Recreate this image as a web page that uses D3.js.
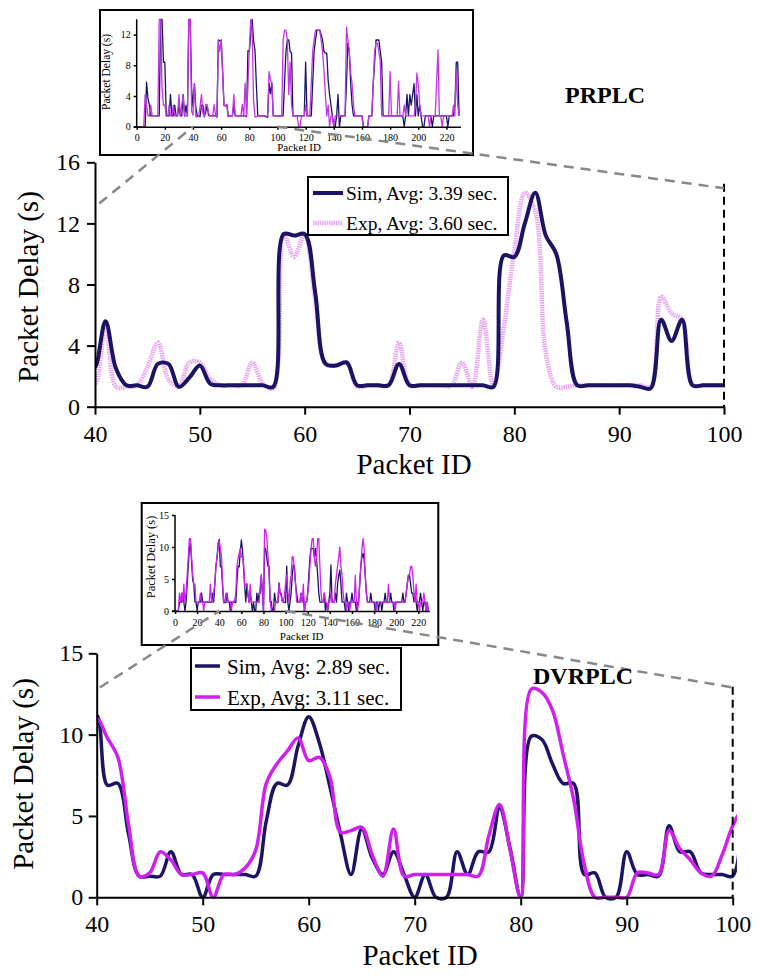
<!DOCTYPE html>
<html><head><meta charset="utf-8">
<script src="https://cdn.jsdelivr.net/npm/d3@7"></script>
<style>
body{margin:0;background:#fff}
svg text{font-family:"Liberation Serif","Times New Roman",serif;fill:#000}
</style>
</head><body>
<svg id="c" width="762" height="976"></svg>
<script>
// ---------------- DATA ----------------
// packet ids 0..229 (index = packet id)
const prSim = [0,0,0,0,0,0,0,5.8,3.7,2.8,
1.4,1.4,1.4,1.4,1.4,1.4,1.4,14,14,8.4,
8.4,1.4,1.4,1.4,4.2,1.4,1.4,2.8,1.4,1.4,
2.8,1.4,1.4,4.2,1.4,2.8,1.4,14,14,5,
2.6,5.6,2.5,1.4,1.4,1.3,2.8,2.8,1.3,1.9,
2.7,1.5,1.4,1.4,1.4,1.4,1.4,1.3,11.3,11.2,
11.3,7.5,2.8,2.7,2.9,1.4,1.4,1.4,1.4,2.8,
1.4,1.4,1.4,1.4,1.4,1.4,1.4,1.4,1.3,9.9,
9.8,12,14,11.2,10,5.5,1.4,1.4,1.4,1.4,
1.4,1.4,1.3,1.2,5.7,4.3,5.7,1.4,1.4,1.4,
1.4,1.4,1.4,1.4,1.4,5.6,9.8,11.3,11.3,9.8,
9.6,1.4,1.4,1.4,1.4,1.4,1.4,1.4,1.4,1.4,
8.4,1.4,1.4,1.4,1.4,5.6,9.8,11.3,12.6,12.6,
12.6,12,11.3,9.8,9.6,9.6,6,4.2,2.8,1.4,
0,0,1.4,4.2,0,1.4,1.4,1.4,1.4,5.6,
10.9,9.8,5.6,2.8,1.4,1.4,1.4,1.4,1.4,1.4,
1.4,0,0,0,0,1.4,1.4,1.4,5.6,8.4,
11.3,11.3,11.3,9.8,8.4,1.4,1.4,1.4,1.4,1.4,
1.4,1.4,1.4,1.4,1.4,1.4,1.4,1.4,1.4,1.4,
0,1.4,4.2,1.4,4.2,2.8,4.2,5.6,1.4,4.2,
1.4,2.8,1.4,0,0,1.4,1.4,1.4,1.4,1.4,
0,1.4,1.4,1.4,1.4,1.4,1.4,1.4,1.4,1.4,
1.4,0,1.4,1.4,1.4,1.4,2.8,8.4,8.4,1.4];

const prExp = [0,0,0,0,0,0,4.2,2.8,1.4,1.4,
2.8,1.4,1.4,1.4,1.4,1.4,14,14,5,2.8,
2.8,1.4,1.4,2.8,1.4,1.4,2.8,1.4,1.4,1.4,
4.2,1.4,2.8,4.2,1.4,1.4,1.4,14,14,2,
1.5,5.6,1.3,1.3,1.4,2.6,4.2,1.8,1.3,2.9,
2.9,1.8,1.4,1.4,1.4,2.9,1.5,1.2,11.3,9.8,
11.3,7,2.8,2.7,2.9,1.3,1.4,1.4,1.4,4.2,
1.4,1.4,1.4,1.4,1.4,2.9,1.3,5.7,1.3,5.2,
10.2,14,12.8,3.5,1.3,1.3,1.4,1.4,1.4,1.4,
1.4,1.4,1.4,1.3,7.2,6.1,5.7,1.4,1.4,1.4,
1.4,1.4,1.4,1.4,11.3,12.6,12.6,11.3,4.2,8.4,
2.8,1.4,1.4,1.4,1.4,0,0,1.4,1.4,1.4,
2.8,1.4,1.4,1.4,5.6,9.8,11.3,12.6,12.6,12.6,
12.6,11.3,9.8,7.4,4.2,1.4,2.8,0,1.4,1.4,
0,1.4,1.4,1.4,1.4,1.4,1.4,1.4,1.4,13,
11.3,9.8,7,5.6,2.8,1.4,1.4,1.4,1.4,1.4,
1.4,0,0,0,0,1.4,1.4,1.4,5.6,9.8,
10.9,10.9,9.8,8.4,1.4,1.4,1.4,1.4,1.4,1.4,
7.2,1.4,1.4,1.4,1.4,1.4,5.9,1.4,1.4,1.4,
2.8,1.4,1.4,1.4,1.4,1.4,1.4,1.4,2.8,7,
5.6,2.8,1.4,1.4,1.4,1.4,1.4,1.4,0,1.4,
1.4,1.4,1.4,5.6,10,1.4,1.4,0,1.4,1.4,
1.4,1.4,1.4,1.4,1.4,2.8,1.4,7.2,2.8,1.4];

const dvSim = [0,0,0,0,1.4,1.4,1.4,2.8,1.4,0,
1.4,4.2,7,9.8,10.6,7.7,4.8,4.2,1.4,1.4,
0,1.4,1.4,1.4,2.8,1.4,1.4,1.4,1.4,1.4,
1.4,1.4,1.4,1.4,2.8,1.4,4.2,7,8.4,10.6,
11.2,6.9,7,3.9,1.3,1.3,1.3,2.8,1.4,1.4,
0,1.4,1.4,1.4,1.4,1.3,4.7,7,6.9,9.3,
11.1,9.5,6.8,3.9,1.4,4.2,2.4,1.4,2.8,1.4,
0,1.4,0,0,2.8,1.4,2.8,2.8,5.5,3,
0,9.9,9.7,8.2,7,7,1.4,1.5,0,0,
2.8,1.4,1.4,1.3,4.4,2.8,2.8,1.5,1.4,1.4,
1.3,7,1.4,0,1.4,2.8,5.6,7.2,7,4.2,
2.8,1.4,1.4,1.4,2.8,1.4,2.8,0,1.4,1.4,
2.8,5.6,8.4,9.8,9.8,9.8,8.4,9.8,8,5.6,
2.8,1.4,1.4,1.4,1.4,2.8,0,1.4,0,1.4,
2.8,7.2,1.4,1.4,1.4,2.8,1.4,4.2,5.6,6.4,
4.2,1.4,1.4,1.4,0,2.8,1.4,0,1.4,1.4,
2.8,1.4,1.4,1.4,0,1.4,1.4,4.2,7,8.4,
9,8,5.6,2.8,1.4,1.4,1.4,2.8,1.4,1.4,
1.4,0,1.4,1.4,0,1.4,1.4,0,1.4,1.4,
2.8,1.4,1.4,1.4,1.4,2.8,1.4,1.4,0,1.4,
1.4,1.4,1.4,1.4,1.4,1.4,2.8,1.4,1.4,2.8,
4.2,5.6,5.6,4.2,2.8,2.8,1.4,2.8,1.4,0,
1.4,1.4,2.8,1.4,0,1.4,1.4,0,1.4,0];

const dvExp = [0,0,0,0,2.8,1.4,2.8,1.4,4.2,1.4,
2.8,5.6,8.4,11.3,11.3,8.4,5.6,4.2,4.2,1.4,
1.4,1.4,1.4,2.8,1.4,1.4,0,1.4,1.4,1.4,
1.4,1.4,4.2,1.4,1.4,2.8,4.2,7,8.4,9.8,
11,9.8,8.6,4.5,1.3,1.5,2.8,2.3,1.4,1.4,
1.5,0,1.4,1.4,1.8,2.9,7,8.2,9,9.8,
8.4,8.6,7.4,4,4.1,4.3,2.6,1.3,4.2,1.3,
1.4,1.4,1.4,1.4,1.4,1.4,1.3,3.8,5.7,2.9,
0,12.8,12.6,11.5,8.8,6,2,0,0,0,
0,1.5,1.5,1.4,4.1,3,2.3,1.5,1.3,2.6,
4.4,5.6,2.8,1.4,4.2,5.6,8.5,8.4,6.1,4.2,
1.4,1.4,1.4,1.4,2.8,1.4,4.2,0,1.4,1.4,
2.8,4.2,7,9.8,11.3,11.3,8.4,7,8.4,11.3,
11.3,7,2.8,1.4,1.4,2.8,1.4,1.4,0,1.4,
1.4,2.8,1.4,1.4,1.4,4.2,5.6,7,8.4,10,
7,5.6,2.8,1.4,1.4,0,1.4,1.4,0,1.4,
1.4,1.4,1.4,5.6,1.4,0,1.4,4.2,7,9.8,
11.3,9.8,5.6,2.8,1.4,1.4,1.4,1.4,1.4,1.4,
1.4,1.4,0,1.4,1.4,1.4,1.4,1.4,1.4,1.4,
1.4,1.4,1.4,4.2,1.4,1.4,1.4,1.4,1.4,0,
1.4,1.4,1.4,1.4,1.4,1.4,1.4,1.4,1.4,2.8,
4.2,5.6,5.6,6.9,7,5.6,2.8,1.4,4.2,1.4,
1.4,0,1.4,1.4,1.4,2.8,1.4,0,1.4,0];

const mainTicksX = [40,50,60,70,80,90,100];
const prTicksY = [0,4,8,12,16];
const dvTicksY = [0,5,10,15];
const insetTicksX = [0,20,40,60,80,100,120,140,160,180,200,220];
const prInsetTicksY = [0,4,8,12];
const dvInsetTicksY = [0,5,10,15];
const prLegend = ["Sim, Avg: 3.39 sec.", "Exp, Avg: 3.60 sec."];
const dvLegend = ["Sim, Avg: 2.89 sec.", "Exp, Avg: 3.11 sec."];
const titles = ["PRPLC", "DVRPLC"];

// ---------------- DRAWING ----------------
const svg = d3.select("#c");
const NAVY = "#1b1464";
const toPts = arr => arr.map((v, i) => [i, v]);

function styleAxis(g, fs, sw) {
  g.select(".domain").attr("stroke", "#000").attr("stroke-width", sw);
  g.selectAll(".tick line").attr("stroke", "#000").attr("stroke-width", sw);
  g.selectAll(".tick text").attr("font-size", fs)
    .attr("font-family", "'Liberation Serif','Times New Roman',serif").attr("fill", "#000");
}

function mainChart(o) {
  const x = d3.scaleLinear().domain([40, 100]).range([o.x0, o.x1]);
  const y = d3.scaleLinear().domain([0, o.ymax]).range([o.y0, o.y1]);
  const g = svg.append("g");
  const cid = "clip" + o.id;
  g.append("clipPath").attr("id", cid).append("rect")
    .attr("x", x(40)).attr("y", 0).attr("width", x(o.clipMax) - x(40)).attr("height", 976);
  const line = d3.line().x(d => x(d[0])).y(d => y(d[1])).curve(d3.curveCatmullRom.alpha(0.5));
  const sub = arr => toPts(arr).filter(d => d[0] >= 39 && d[0] <= 101);
  const lg = g.append("g").attr("clip-path", `url(#${cid})`);
  o.series.forEach(s => {
    lg.append("path").attr("d", line(sub(s.data))).attr("fill", "none")
      .attr("stroke", s.color).attr("stroke-width", s.width)
      .attr("stroke-dasharray", s.dash || null).attr("stroke-linejoin", "round");
  });
  g.append("line").attr("x1", x(100)).attr("x2", x(100)).attr("y1", y(o.vTop)).attr("y2", y(0))
    .attr("stroke", "#000").attr("stroke-width", 2).attr("stroke-dasharray", "8,5");
  const ax = g.append("g").attr("transform", `translate(0,${o.y0})`)
    .call(d3.axisBottom(x).tickValues(mainTicksX).tickSize(8).tickSizeOuter(0).tickPadding(o.xPad).tickFormat(d3.format("d")));
  styleAxis(ax, 24, 2);
  const ay = g.append("g").attr("transform", `translate(${o.x0},0)`)
    .call(d3.axisLeft(y).tickValues(o.ticksY).tickSize(8).tickSizeOuter(0).tickPadding(o.yPad).tickFormat(d3.format("d")));
  styleAxis(ay, 24, 2);
  g.append("text").attr("x", o.xLab[0]).attr("y", o.xLab[1]).attr("text-anchor", "middle")
    .attr("font-size", 29).text("Packet ID");
  g.append("text").attr("transform", `translate(${o.yLab[0]},${o.yLab[1]}) rotate(-90)`)
    .attr("text-anchor", "middle").attr("font-size", 29).text("Packet Delay (s)");
  return {x, y};
}

function inset(o) {
  const g = svg.append("g");
  g.append("rect").attr("x", o.box[0]).attr("y", o.box[1]).attr("width", o.box[2]).attr("height", o.box[3])
    .attr("fill", "#fff").attr("stroke", "#000").attr("stroke-width", 2);
  const x = d3.scaleLinear().domain([0, 230]).range([o.x0, o.x1]);
  const y = d3.scaleLinear().domain([0, o.ymax]).range([o.y0, o.y1]);
  const line = d3.line().x(d => x(d[0])).y(d => y(d[1]));
  o.series.forEach(s => {
    g.append("path").attr("d", line(toPts(s.data))).attr("fill", "none")
      .attr("stroke", s.color).attr("stroke-width", 1.3).attr("stroke-linejoin", "round");
  });
  const ax = g.append("g").attr("transform", `translate(0,${o.y0})`)
    .call(d3.axisBottom(x).tickValues(insetTicksX).tickSize(3).tickSizeOuter(0).tickPadding(o.xPad).tickFormat(d3.format("d")));
  styleAxis(ax, 10, 1.5);
  const ay = g.append("g").attr("transform", `translate(${o.x0},0)`)
    .call(d3.axisLeft(y).tickValues(o.ticksY).tickSize(3).tickSizeOuter(0).tickPadding(3).tickFormat(d3.format("d")));
  ay.select(".domain").attr("d", `M-3,${o.y0}H0V${o.yTop}`);
  styleAxis(ay, 10, 1.5);
  g.append("text").attr("x", o.xLab[0]).attr("y", o.xLab[1]).attr("text-anchor", "middle")
    .attr("font-size", 11).text("Packet ID");
  g.append("text").attr("transform", `translate(${o.yLab[0]},${o.yLab[1]}) rotate(-90)`)
    .attr("text-anchor", "middle").attr("font-size", o.yLabFs).text("Packet Delay (s)");
  return {x, y};
}

function legend(o, labels, series) {
  const g = svg.append("g");
  g.append("rect").attr("x", o.box[0]).attr("y", o.box[1]).attr("width", o.box[2]).attr("height", o.box[3])
    .attr("fill", "#fff").attr("stroke", "#000").attr("stroke-width", 2);
  labels.forEach((t, i) => {
    const s = series[i];
    g.append("line").attr("x1", o.lx[0]).attr("x2", o.lx[1]).attr("y1", o.rows[i]).attr("y2", o.rows[i])
      .attr("stroke", s.color).attr("stroke-width", s.width).attr("stroke-dasharray", s.dash || null);
    g.append("text").attr("x", o.tx).attr("y", o.rows[i] + o.base).attr("font-size", o.fs).text(t);
  });
}

function connectors(m, ins, c) {
  const st = sel => sel.attr("stroke", "#888").attr("stroke-width", 2.5).attr("stroke-dasharray", "10,7").attr("fill", "none");
  st(svg.append("line").attr("x1", m.x(c.a[0])).attr("y1", m.y(c.a[1]))
    .attr("x2", ins.x(40)).attr("y2", ins.y(0)));
  st(svg.append("line").attr("x1", ins.x(100)).attr("y1", ins.y(0))
    .attr("x2", m.x(100)).attr("y2", m.y(c.b)));
}

// ---- PRPLC ----
const prSeries = [
  {data: prExp, color: "#eaa8f4", width: 4.5, dash: "1.5,0.8"},
  {data: prSim, color: NAVY, width: 4}
];
const m1 = mainChart({id: 1, x0: 95, x1: 724, y0: 406.7, y1: 162.3, ymax: 16, ticksY: prTicksY,
  clipMax: 100.1, vTop: 14.6, xPad: 10, yPad: 7, xLab: [414, 474], yLab: [38, 287], series: prSeries});
legend({box: [308, 177, 200, 58], lx: [313, 343], rows: [193, 223], tx: 346, base: 7, fs: 19.5},
  prLegend, [prSeries[1], prSeries[0]]);
const i1 = inset({box: [100, 10, 373, 145], x0: 136.7, x1: 460.5, y0: 126.7, y1: 19.3, ymax: 14, yTop: 19.3,
  ticksY: prInsetTicksY, xPad: 4, xLab: [299, 151], yLab: [110, 72], yLabFs: 11.5,
  series: [{data: prSim, color: NAVY}, {data: prExp, color: "#c535e8"}]});
connectors(m1, i1, {a: [40.4, 13.3], b: 14.3});
svg.append("text").attr("x", 605).attr("y", 103).attr("text-anchor", "middle")
  .attr("font-size", 24).attr("font-weight", "bold").text(titles[0]);

// ---- DVRPLC ----
const dvSeries = [
  {data: dvSim, color: NAVY, width: 3.5},
  {data: dvExp, color: "#d020f0", width: 3.5}
];
const m2 = mainChart({id: 2, x0: 96.7, x1: 732.7, y0: 897.3, y1: 653.3, ymax: 15, ticksY: dvTicksY,
  clipMax: 100.4, vTop: 12.95, xPad: 9.7, yPad: 5.4, xLab: [420, 965], yLab: [33, 774], series: dvSeries});
legend({box: [191, 648, 210, 62], lx: [195, 220], rows: [666, 697], tx: 227, base: 7.5, fs: 21},
  dvLegend, dvSeries);
const i2 = inset({box: [141.7, 503, 296.6, 142], x0: 175, x1: 429.4, y0: 611, y1: 515, ymax: 15, yTop: 515,
  ticksY: dvInsetTicksY, xPad: 5, xLab: [301.7, 640], yLab: [155, 557], yLabFs: 12.5,
  series: [{data: dvSim, color: NAVY}, {data: dvExp, color: "#d020f0"}]});
connectors(m2, i2, {a: [40.3, 12.9], b: 12.9});
svg.append("text").attr("x", 583).attr("y", 684).attr("text-anchor", "middle")
  .attr("font-size", 24).attr("font-weight", "bold").text(titles[1]);
</script>
</body></html>
